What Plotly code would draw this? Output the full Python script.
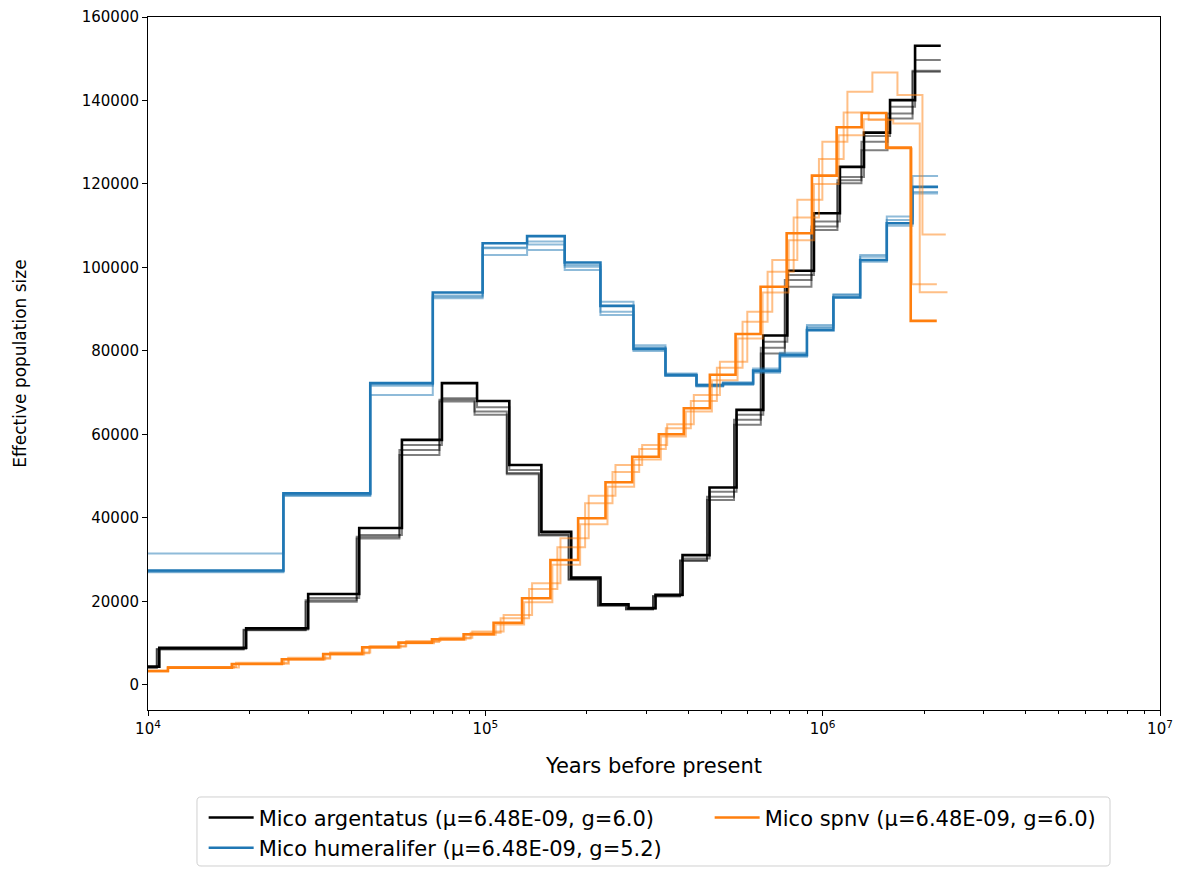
import plotly.graph_objects as go

# ---- PSMC step histories (years before present, effective population size) ----
# Each species: interval boundaries (years) and Ne per interval; bootstraps lighter.

argentatus_t = [10000, 10800, 19540, 29840, 42280, 56590, 74360, 94500, 117800, 146600,
                179700, 219400, 265700, 319500, 384200, 461900, 555500, 666800, 785700,
                942300, 1125000, 1326000, 1584000, 1879000, 2239000]
argentatus_ne = [4400, 8900, 13600, 21800, 37600, 58700, 72300, 68000, 52700, 36700,
                 25700, 19300, 18400, 21600, 31100, 47300, 65900, 83700, 99200, 113000,
                 124100, 132300, 140100, 153100]
argentatus_boot_t = [10000, 10620, 19210, 29330, 41560, 55630, 73100, 92900, 115800, 144100,
                     176600, 215700, 261200, 314100, 377700, 454000, 546000, 655500, 772300,
                     926300, 1106000, 1303000, 1557000, 1847000, 2239000]
argentatus_boot1 = [4300, 8700, 13300, 20800, 35900, 57500, 68700, 66500, 51500, 36300,
                    25400, 19200, 18300, 21400, 30300, 46300, 64700, 82200, 98200, 111000,
                    121700, 131500, 138500, 149700]
argentatus_boot2 = [4200, 8600, 13200, 20300, 35500, 56300, 68300, 65500, 50800, 36000,
                    25300, 19100, 18200, 21300, 29900, 45100, 63500, 80800, 97000, 109800,
                    120900, 130100, 136900, 147100]
argentatus_boot3 = [4100, 8500, 13100, 19950, 35100, 55100, 67900, 64700, 50500, 35800,
                    25200, 19000, 18100, 21200, 29700, 44300, 62300, 79400, 95400, 109000,
                    120200, 128100, 135700, 146900]

humeralifer_t = [10000, 25200, 45590, 69860, 98180, 132980, 171900, 219400, 274900, 342000,
                 422700, 506600, 622100, 746900, 898300, 1076000, 1292000, 1549000, 1846000,
                 2198000]
humeralifer_ne = [27400, 45900, 72300, 94000, 105800, 107500, 101200, 90800, 80500, 74200,
                  71800, 72200, 75300, 79000, 85000, 92800, 101800, 110600, 119300]
humeralifer_boot1 = [31500, 45600, 69450, 93000, 104600, 106200, 100200, 91800, 81400, 74600,
                     72000, 72500, 75800, 79600, 85800, 93400, 103000, 112200, 121900]
humeralifer_boot2 = [27200, 45300, 72000, 92600, 103000, 104200, 99400, 89400, 80000, 74000,
                     71600, 72000, 75000, 78600, 86200, 93600, 102600, 111400, 118100]
humeralifer_boot3 = [27000, 45400, 71700, 93300, 104800, 105500, 100600, 88600, 80900, 74400,
                     71500, 71900, 74800, 79200, 85500, 93000, 101400, 110000, 117700]

spnv_t = [10000, 11460, 17720, 24930, 33060, 43150, 55290, 69480, 86220, 105800, 128500,
          155900, 188400, 227100, 272500, 326800, 387600, 463000, 551800, 654600, 782100,
          929400, 1100000, 1305000, 1543000, 1824000, 2179000]
spnv_ne = [3350, 4150, 5030, 6150, 7400, 9020, 10130, 10940, 12140, 14900, 20760, 29940,
           39920, 48540, 54680, 60040, 66270, 74300, 84060, 95400, 108200, 122000, 133600,
           137000, 128700, 87200]
spnv_boot1_t = [10000, 11460, 18240, 26030, 34670, 45590, 58290, 73530, 91500, 113300, 137600,
                167000, 202500, 243100, 291700, 346000, 415000, 495900, 597800, 709000, 841200,
                997900, 1184000, 1404000, 1666000, 1976000, 2317000]
spnv_boot1 = [3400, 4300, 5300, 6500, 7800, 9300, 10500, 11300, 12800, 16760, 24360, 35130,
              45340, 52690, 57480, 62440, 69450, 77430, 89400, 101800, 116200, 130100, 142100,
              146700, 141300, 107900]
spnv_boot2_t = [10000, 11460, 18600, 26150, 34680, 45260, 58000, 72900, 90440, 111000, 134800,
                163500, 197600, 238200, 285800, 342800, 406600, 485700, 578800, 686700, 820400,
                974900, 1154000, 1369000, 1619000, 1940000, 2344000]
spnv_boot2 = [3300, 4200, 5100, 6300, 7600, 9200, 10300, 11100, 12500, 16000, 23000, 33000,
              43500, 51000, 56500, 61500, 68000, 76000, 87000, 99000, 112000, 126000, 137100,
              135300, 134500, 94050]
spnv_boot3_t = [10000, 11460, 17960, 25270, 33520, 43740, 56050, 70440, 87410, 107300, 130300,
                158000, 191000, 230200, 276200, 331300, 392900, 469400, 559400, 663600, 792800,
                942200, 1115000, 1323000, 1564000, 1837000, 2180000]
spnv_boot3 = [3300, 4100, 5000, 6100, 7300, 8900, 10000, 10800, 12000, 14500, 19800, 28800,
              38500, 47500, 54000, 59500, 65500, 73000, 83000, 94000, 106500, 120000, 131700,
              135500, 128500, 96000]

x_tick_vals = [1e4, 1e5, 1e6, 1e7]
x_tick_text = ["10<sup>4</sup>", "10<sup>5</sup>", "10<sup>6</sup>", "10<sup>7</sup>"]
x_minor_vals = [m * 10 ** k for k in (4, 5, 6) for m in range(2, 10)]
y_tick_vals = [0, 20000, 40000, 60000, 80000, 100000, 120000, 140000, 160000]

FONT = "DejaVu Sans"
BLACK = "#000000"
BLUE = "#1f77b4"
ORANGE = "#ff7f0e"


def step(t, ne):
    # post-style step: each Ne value holds until the next boundary
    return list(t), list(ne) + [ne[-1]]


fig = go.Figure()


def add_history(t, ne, color, width, name=None, legend=None, rank=None):
    x, y = step(t, ne)
    fig.add_trace(go.Scatter(
        x=x, y=y, mode="lines",
        line=dict(shape="hv", color=color, width=width),
        name=name if name else "",
        showlegend=name is not None,
        legend=legend if legend else "legend",
        legendrank=rank if rank else 1000,
        hoverinfo="skip",
    ))


# Mico argentatus
for bt, bv in [(argentatus_t, argentatus_boot1), (argentatus_boot_t, argentatus_boot2),
               (argentatus_boot_t, argentatus_boot3)]:
    add_history(bt, bv, "rgba(0,0,0,0.5)", 2)
add_history(argentatus_t, argentatus_ne, BLACK, 2.6,
            "Mico argentatus (\u03bc=6.48E-09, g=6.0)", "legend", 1)

# Mico humeralifer
for bv in [humeralifer_boot1, humeralifer_boot2, humeralifer_boot3]:
    add_history(humeralifer_t, bv, "rgba(31,119,180,0.5)", 2)
add_history(humeralifer_t, humeralifer_ne, BLUE, 2.6,
            "Mico humeralifer (\u03bc=6.48E-09, g=5.2)", "legend", 2)

# Mico spnv
for bt, bv in [(spnv_boot1_t, spnv_boot1), (spnv_boot2_t, spnv_boot2),
               (spnv_boot3_t, spnv_boot3)]:
    add_history(bt, bv, "rgba(255,127,14,0.5)", 2)
add_history(spnv_t, spnv_ne, ORANGE, 2.6,
            "Mico spnv (\u03bc=6.48E-09, g=6.0)", "legend2", 3)

axis_common = dict(
    showline=True, linecolor="black", linewidth=1, mirror=True,
    ticks="outside", ticklen=5, tickwidth=1, tickcolor="black",
    showgrid=False, zeroline=False, automargin=False,
    tickfont=dict(family=FONT, size=15, color="black"),
)

fig.update_layout(
    width=1185, height=869,
    margin=dict(l=148, r=25, t=17, b=159, autoexpand=False),
    plot_bgcolor="white", paper_bgcolor="white",
    font=dict(family=FONT, color="black"),
    xaxis=dict(
        type="log", range=[4, 7],
        tickmode="array", tickvals=x_tick_vals, ticktext=x_tick_text,
        minor=dict(tickmode="array", tickvals=x_minor_vals, ticks="outside",
                   ticklen=3, tickcolor="black", showgrid=False),
        title=dict(text="Years before present", font=dict(family=FONT, size=21), standoff=21),
        **axis_common,
    ),
    yaxis=dict(
        range=[-6000, 160000],
        tickmode="array", tickvals=y_tick_vals, ticktext=[str(v) for v in y_tick_vals],
        title=dict(text="Effective population size", font=dict(family=FONT, size=17), standoff=50),
        **axis_common,
    ),
    legend=dict(
        x=0.055, y=-0.126, xanchor="left", yanchor="top", orientation="v",
        bgcolor="rgba(0,0,0,0)", borderwidth=0,
        font=dict(family=FONT, size=21, color="black"),
        tracegroupgap=0, itemwidth=45,
    ),
    legend2=dict(
        x=0.555, y=-0.126, xanchor="left", yanchor="top", orientation="v",
        bgcolor="rgba(0,0,0,0)", borderwidth=0,
        font=dict(family=FONT, size=21, color="black"),
        itemwidth=45,
    ),
    showlegend=True,
)

# rounded legend frame spanning both legend columns
x0, x1, y0, y1, r = 0.0484, 0.9506, -0.2251, -0.1255, 0.004
ry = r * 1012 / 693
frame = (f"M {x0 + r},{y1} L {x1 - r},{y1} Q {x1},{y1} {x1},{y1 - ry} "
         f"L {x1},{y0 + ry} Q {x1},{y0} {x1 - r},{y0} L {x0 + r},{y0} "
         f"Q {x0},{y0} {x0},{y0 + ry} L {x0},{y1 - ry} Q {x0},{y1} {x0 + r},{y1} Z")
fig.add_shape(type="path", path=frame, xref="paper", yref="paper",
              line=dict(color="#d0d0d0", width=1), fillcolor="rgba(255,255,255,0.8)",
              layer="below")

fig.write_html("out.html")
